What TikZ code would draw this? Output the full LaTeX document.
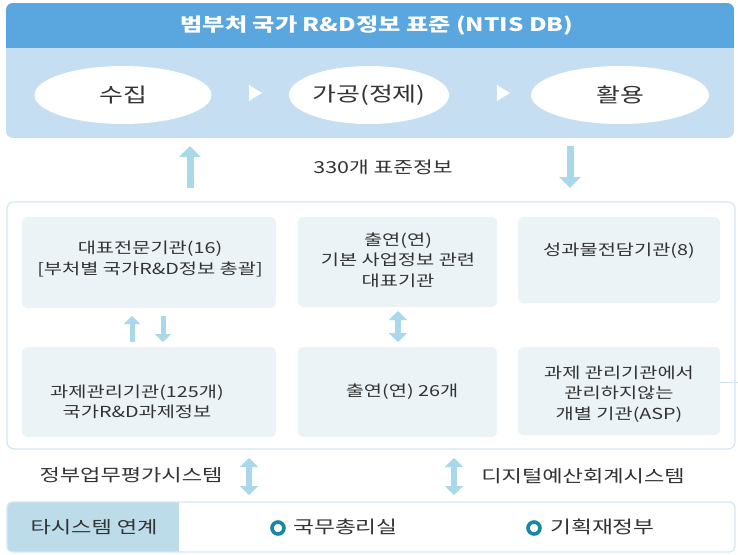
\documentclass[tikz,border=0pt]{standalone}
\usepackage{fontspec}
\setmainfont[FakeStretch=1.3]{Noto Sans CJK KR}
\usetikzlibrary{arrows.meta,shapes.geometric}
\definecolor{hdr}{HTML}{5AA6DE}
\definecolor{bodyc}{HTML}{C5DEF2}
\definecolor{cellc}{HTML}{EBF3F6}
\definecolor{arrc}{HTML}{A9D8EA}
\definecolor{framec}{HTML}{D3E7F0}
\definecolor{tabc}{HTML}{BDDCEA}
\definecolor{dotc}{HTML}{1A86A6}
\definecolor{txtc}{HTML}{333333}
\begin{document}
\begin{tikzpicture}[x=1pt,y=-1pt,
  cellbox/.style={fill=cellc, rounded corners=5pt, inner sep=0pt},
  celltext/.style={text=txtc, align=center, font=\fontsize{15.2}{20.5}\selectfont, inner sep=0pt},
  oval/.style={ellipse, fill=white, inner sep=0pt, text=txtc, font=\fontsize{20}{22}\selectfont},
  bigarr/.style={draw=arrc, line width=7pt, -{Triangle[width=21pt,length=11pt]}},
  smallarr/.style={draw=arrc, line width=5pt, -{Triangle[width=16pt,length=8pt]}},
  dblarr/.style={draw=arrc, line width=6pt, {Triangle[width=18pt,length=9pt]}-{Triangle[width=18pt,length=9pt]}},
  plain/.style={text=txtc, inner sep=0pt, font=\fontsize{16.5}{18}\selectfont},
  bullet/.style={circle, draw=dotc, line width=3.6pt, fill=white, minimum size=12pt, inner sep=0pt}
]
\useasboundingbox (0,0) rectangle (738,554);
\fill[white] (0,0) rectangle (738,554);

% top box
\begin{scope}
  \clip[rounded corners=7pt] (6,3) rectangle (734,138);
  \fill[bodyc] (6,3) rectangle (734,138);
  \fill[hdr] (6,3) rectangle (734,48);
\end{scope}
\node[text=white, inner sep=0pt, font=\fontsize{18.6}{20}\selectfont\bfseries] (title) at (377,26) {범부처 국가 R\&D정보 표준 (NTIS DB)};

\node[oval, minimum width=177pt, minimum height=58pt] (e1) at (123,95) {수집};
\node[oval, minimum width=155pt, minimum height=58pt] (e2) at (369,95) {가공(정제)};
\node[oval, minimum width=178pt, minimum height=58pt] (e3) at (620,95) {활용};
\fill[white] (249,85) -- (262,93) -- (249,101) -- cycle;
\fill[white] (497,85) -- (510,93) -- (497,101) -- cycle;

% arrows between top box and middle box
\coordinate (u1) at (190,188); \coordinate (u2) at (190,146);
\coordinate (d1) at (570,146); \coordinate (d2) at (570,188);
\draw[bigarr] (u1) -- (u2);
\draw[bigarr] (d1) -- (d2);
\node[plain] (std) at (383,167) {330개 표준정보};

% middle box
\draw[framec, line width=1.2pt, rounded corners=7pt] (7,202) rectangle (735,449);
\node[cellbox, minimum width=254pt, minimum height=91pt] (b1) at (149,262.5) {};
\node[cellbox, minimum width=199pt, minimum height=90pt] (b2) at (397.5,262) {};
\node[cellbox, minimum width=202pt, minimum height=86pt] (b3) at (619,260) {};
\node[cellbox, minimum width=254pt, minimum height=90pt] (b4) at (149,392) {};
\node[cellbox, minimum width=199pt, minimum height=90pt] (b5) at (397.5,392) {};
\node[cellbox, minimum width=202pt, minimum height=88pt] (b6) at (619,391) {};

\node[celltext] (t1) at (150,259) {대표전문기관(16)\\{[}부처별 국가R\&D정보 총괄{]}};
\node[celltext] (t2) at (398,260) {출연(연)\\기본 사업정보 관련\\대표기관};
\node[celltext] (t3) at (619,251) {성과물전담기관(8)};
\node[celltext] (t4) at (137,402) {과제관리기관(125개)\\국가R\&D과제정보};
\node[celltext] (t5) at (402,392) {출연(연) 26개};
\node[celltext] (t6) at (619,394) {과제 관리기관에서\\관리하지않는\\개별 기관(ASP)};

\coordinate (r1) at (b6.east |- 0,382); \coordinate (r2) at (738,382);
\draw[framec, line width=1pt] (r1) -- (r2);

\coordinate (s1) at (132,342); \coordinate (s2) at (132,316);
\coordinate (s3) at (163,316); \coordinate (s4) at (163,342);
\draw[smallarr] (s1) -- (s2);
\draw[smallarr] (s3) -- (s4);
\coordinate (m1) at (398,311); \coordinate (m2) at (398,342);
\draw[dblarr] (m1) -- (m2);

% lower links
\coordinate (l1) at (249,458); \coordinate (l2) at (249,495);
\coordinate (k1) at (454,458); \coordinate (k2) at (454,495);
\draw[dblarr] (l1) -- (l2);
\draw[dblarr] (k1) -- (k2);
\node[plain, font=\fontsize{17}{18}\selectfont] (gov) at (131,475) {정부업무평가시스템};
\node[plain, font=\fontsize{17}{18}\selectfont] (dig) at (583,476) {디지털예산회계시스템};

% bottom box
\begin{scope}
  \clip[rounded corners=6pt] (7,502) rectangle (735,552);
  \fill[white] (7,502) rectangle (735,552);
  \fill[tabc] (7,502) rectangle (179,552);
\end{scope}
\draw[framec, line width=1.2pt, rounded corners=6pt] (7,502) rectangle (735,552);
\node[plain, font=\fontsize{17}{18}\selectfont] (tab) at (94,527) {타시스템 연계};
\node[bullet] (p1) at (278,528) {};
\node[bullet] (p2) at (534,528) {};
\node[plain, anchor=west, font=\fontsize{17.5}{18}\selectfont] (pm) at (293,527) {국무총리실};
\node[plain, anchor=west, font=\fontsize{17.5}{18}\selectfont] (mo) at (550,527) {기획재정부};
\end{tikzpicture}
\end{document}
